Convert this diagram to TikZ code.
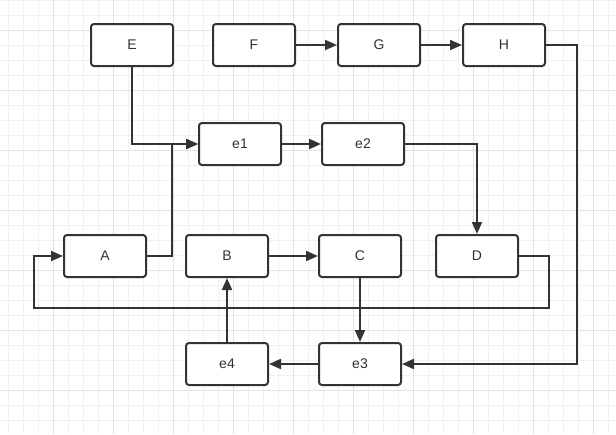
\documentclass[tikz,border=0pt]{standalone}
\usepackage{fontspec}
\setmainfont{Liberation Sans}
\usetikzlibrary{arrows.meta}
\definecolor{ink}{HTML}{333333}
\definecolor{gridminor}{HTML}{F0F0F0}
\definecolor{gridmajor}{HTML}{E3E3E3}
\begin{document}
\begin{tikzpicture}[x=1pt,y=-1pt,
  box/.style={draw=ink, line width=2pt, rounded corners=3pt, minimum width=82pt, minimum height=42pt, text=ink, font=\fontsize{14}{16}\selectfont, inner sep=0pt, fill=white},
  conn/.style={draw=ink, line width=2pt, -{Triangle[length=12pt,width=10pt]}},
  minorline/.style={draw=gridminor, line width=1pt},
  majorline/.style={draw=gridmajor, line width=1pt}]
\fill[white] (0,0) rectangle (616,434);
\useasboundingbox (0,0) rectangle (616,434);
\foreach \k in {0,...,40} { \draw[minorline] ({8.5+15*\k},0) -- ({8.5+15*\k},434); }
\foreach \k in {0,...,28} { \draw[minorline] (0,{0.5+15*\k}) -- (616,{0.5+15*\k}); }
\foreach \k in {0,...,9} { \draw[majorline] ({53.5+60*\k},0) -- ({53.5+60*\k},434); }
\foreach \k in {0,...,6} { \draw[majorline] (0,{30.5+60*\k}) -- (616,{30.5+60*\k}); }

\node[box] (E) at (132,45) {E};
\node[box] (F) at (254,45) {F};
\node[box] (G) at (379,45) {G};
\node[box] (H) at (504,45) {H};
\node[box] (e1) at (240,144) {e1};
\node[box] (e2) at (363,144) {e2};
\node[box] (A) at (105,256) {A};
\node[box] (B) at (227,256) {B};
\node[box] (C) at (360,256) {C};
\node[box] (D) at (477,256) {D};
\node[box] (e3) at (360,364) {e3};
\node[box] (e4) at (227,364) {e4};

\coordinate (ja) at (172,144);
\coordinate (hr) at (577,364);
\coordinate (d1) at (549,308);
\coordinate (d2) at (34,308);

\draw[conn] (E.south) |- (e1.west);
\draw[conn] (A.east) -| (ja) -- (e1.west);
\draw[conn] (F) -- (G);
\draw[conn] (G) -- (H);
\draw[conn] (e1) -- (e2);
\draw[conn] (H.east) -| (hr) -- (e3.east);
\draw[conn] (e2.east) -| (D.north);
\draw[conn] (D.east) -| (d1) -- (d2) |- (A.west);
\draw[conn] (B) -- (C);
\draw[conn] (C) -- (e3);
\draw[conn] (e3) -- (e4);
\draw[conn] (e4) -- (B);
\end{tikzpicture}
\end{document}
